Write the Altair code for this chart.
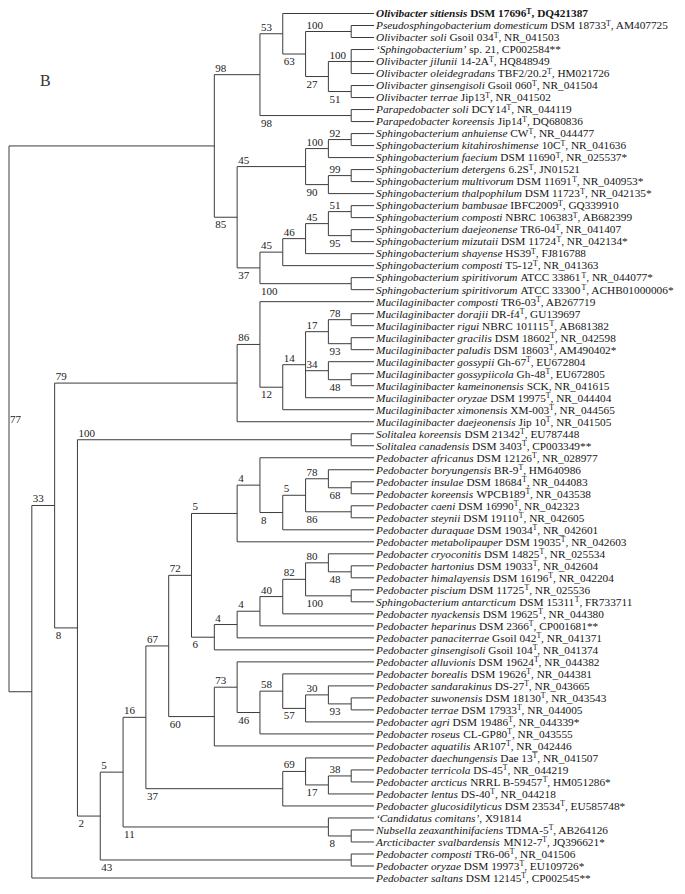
import altair as alt
import pandas as pd

PANEL = "B"

SPECIES = [
    "Olivibacter sitiensis", "Pseudosphingobacterium domesticum", "Olivibacter soli",
    "\u2018Sphingobacterium\u2019", "Olivibacter jilunii", "Olivibacter oleidegradans",
    "Olivibacter ginsengisoli", "Olivibacter terrae", "Parapedobacter soli",
    "Parapedobacter koreensis", "Sphingobacterium anhuiense", "Sphingobacterium kitahiroshimense",
    "Sphingobacterium faecium", "Sphingobacterium detergens", "Sphingobacterium multivorum",
    "Sphingobacterium thalpophilum", "Sphingobacterium bambusae", "Sphingobacterium composti",
    "Sphingobacterium daejeonense", "Sphingobacterium mizutaii", "Sphingobacterium shayense",
    "Sphingobacterium composti", "Sphingobacterium spiritivorum", "Sphingobacterium spiritivorum",
    "Mucilaginibacter composti", "Mucilaginibacter dorajii", "Mucilaginibacter rigui",
    "Mucilaginibacter gracilis", "Mucilaginibacter paludis", "Mucilaginibacter gossypii",
    "Mucilaginibacter gossypiicola", "Mucilaginibacter kameinonensis", "Mucilaginibacter oryzae",
    "Mucilaginibacter ximonensis", "Mucilaginibacter daejeonensis", "Solitalea koreensis",
    "Solitalea canadensis", "Pedobacter africanus", "Pedobacter boryungensis",
    "Pedobacter insulae", "Pedobacter koreensis", "Pedobacter caeni",
    "Pedobacter steynii", "Pedobacter duraquae", "Pedobacter metabolipauper",
    "Pedobacter cryoconitis", "Pedobacter hartonius", "Pedobacter himalayensis",
    "Pedobacter piscium", "Sphingobacterium antarcticum", "Pedobacter nyackensis",
    "Pedobacter heparinus", "Pedobacter panaciterrae", "Pedobacter ginsengisoli",
    "Pedobacter alluvionis", "Pedobacter borealis", "Pedobacter sandarakinus",
    "Pedobacter suwonensis", "Pedobacter terrae", "Pedobacter agri",
    "Pedobacter roseus", "Pedobacter aquatilis", "Pedobacter daechungensis",
    "Pedobacter terricola", "Pedobacter arcticus", "Pedobacter lentus",
    "Pedobacter glucosidilyticus", "\u2018Candidatus comitans\u2019", "Nubsella zeaxanthinifaciens",
    "Arcticibacter svalbardensis", "Pedobacter composti", "Pedobacter oryzae",
    "Pedobacter saltans",
]
STRAIN = [
    "DSM 17696", "DSM 18733", "Gsoil 034", "sp. 21", "14-2A", "TBF2/20.2", "Gsoil 060",
    "Jip13", "DCY14", "Jip14", "CW", "10C", "DSM 11690", "6.2S", "DSM 11691", "DSM 11723",
    "IBFC2009", "NBRC 106383", "TR6-04", "DSM 11724", "HS39", "T5-12", "ATCC 33861",
    "ATCC 33300", "TR6-03", "DR-f4", "NBRC 101115", "DSM 18602", "DSM 18603", "Gh-67",
    "Gh-48", "SCK", "DSM 19975", "XM-003", "Jip 10", "DSM 21342", "DSM 3403", "DSM 12126",
    "BR-9", "DSM 18684", "WPCB189", "DSM 16990", "DSM 19110", "DSM 19034", "DSM 19035",
    "DSM 14825", "DSM 19033", "DSM 16196", "DSM 11725", "DSM 15311", "DSM 19625",
    "DSM 2366", "Gsoil 042", "Gsoil 104", "DSM 19624", "DSM 19626", "DS-27", "DSM 18130",
    "DSM 17933", "DSM 19486", "CL-GP80", "AR107", "Dae 13", "DS-45", "NRRL B-59457",
    "DS-40", "DSM 23534", "", "TDMA-5", "MN12-7", "TR6-06", "DSM 19973", "DSM 12145",
]
TYPE_STRAIN = [s not in ("sp. 21", "SCK", "") for s in STRAIN]
ACCESSION = [
    "DQ421387", "AM407725", "NR_041503", "CP002584**", "HQ848949", "HM021726", "NR_041504",
    "NR_041502", "NR_044119", "DQ680836", "NR_044477", "NR_041636", "NR_025537*", "JN01521",
    "NR_040953*", "NR_042135*", "GQ339910", "AB682399", "NR_041407", "NR_042134*", "FJ816788",
    "NR_041363", "NR_044077*", "ACHB01000006*", "AB267719", "GU139697", "AB681382",
    "NR_042598", "AM490402*", "EU672804", "EU672805", "NR_041615", "NR_044404", "NR_044565",
    "NR_041505", "EU787448", "CP003349**", "NR_028977", "HM640986", "NR_044083", "NR_043538",
    "NR_042323", "NR_042605", "NR_042601", "NR_042603", "NR_025534", "NR_042604", "NR_042204",
    "NR_025536", "FR733711", "NR_044380", "CP001681**", "NR_041371", "NR_041374", "NR_044382",
    "NR_044381", "NR_043665", "NR_043543", "NR_044005", "NR_044339*", "NR_043555", "NR_042446",
    "NR_041507", "NR_044219", "HM051286*", "NR_044218", "EU585748*", "X91814", "AB264126",
    "JQ396621*", "NR_041506", "EU109726*", "CP002545**",
]
BOLD_LEAVES = [0]

# Topology (Newick): bare numbers are leaf indices, numbers after ')' are bootstrap values
CLADE_OLIVIBACTER = "((0,((1,2)100,((3,4,5)100,(6,7)51)27)63)53,(8,9)98)98"
CLADE_SPHINGO = "((((10,11)92,12)100,((13,14)99,15)90)45,(((((16,17)51,(18,19)95)45,20)46,21)45,(22,23)100)37)85"
CLADE_MUCILAGINI = "((24,((((25,26)78,(27,28)93)17,(29,(30,31)48)34,32)14,33)12)86,34)79"
CLADE_PEDO_A = "(((37,(((38,(39,40)68)78,(41,42)86)5,43)8)4,44)5,((((((45,(46,47)48)80,(48,49)100)82,50)40,51)4,52)4,53)6)72"
CLADE_PEDO_B = "((54,((55,((56,(57,58)93)30,59)57)58,60)46)73,61)60"
CLADE_PEDO_C = "((62,((63,64)38,65)17)69,66)37"
TREE = ("((" + CLADE_OLIVIBACTER + "," + CLADE_SPHINGO + "),((" + CLADE_MUCILAGINI
        + ",((35,36)100,((((" + CLADE_PEDO_A + "," + CLADE_PEDO_B + ")67," + CLADE_PEDO_C
        + ")16,(67,(68,69)8)11)5,(70,71)43)2)8)33,72))77")

# ---------------- layout ----------------
W, H = 669, 878
ROOT_X = 1.0
LEAF_X = 366.0
TEXT_X = LEAF_X + 2
LEAF_Y0 = 5.5
LEAF_Y1 = 870.0
FS = 11.3
BOOT_FS = 11
FONT = "Liberation Serif"


def _tab(upper, lower, extra):
    d = {}
    for ch, w in zip("ABCDEFGHIJKLMNOPQRSTUVWXYZ", upper):
        d[ch] = w
    for ch, w in zip("abcdefghijklmnopqrstuvwxyz", lower):
        d[ch] = w
    for ch in "0123456789":
        d[ch] = 500
    d.update(extra)
    return d


PUNCT = {" ": 250, ",": 250, ".": 250, "-": 333, "/": 278, "*": 500, "_": 500,
         "\u2018": 333, "\u2019": 333}
REG = _tab([722, 667, 667, 722, 611, 556, 722, 722, 333, 389, 722, 611, 889, 722, 722, 556, 722,
            667, 556, 611, 722, 722, 944, 722, 722, 611],
           [444, 500, 444, 500, 444, 333, 500, 500, 278, 278, 500, 278, 778, 500, 500, 500, 500,
            333, 389, 278, 500, 500, 722, 500, 500, 444], PUNCT)
ITA = _tab([611, 611, 667, 722, 611, 611, 722, 722, 333, 444, 667, 556, 833, 667, 722, 611, 722,
            611, 500, 556, 722, 611, 833, 611, 556, 556],
           [500, 500, 444, 500, 444, 278, 500, 500, 278, 278, 444, 278, 722, 500, 500, 500, 500,
            389, 389, 278, 500, 444, 667, 444, 444, 389], PUNCT)
BLD = _tab([722, 667, 722, 722, 667, 611, 778, 778, 389, 500, 778, 667, 944, 722, 778, 611, 778,
            722, 556, 667, 722, 722, 1000, 722, 722, 667],
           [500, 556, 444, 556, 444, 333, 500, 556, 278, 333, 556, 278, 833, 556, 500, 556, 556,
            444, 389, 333, 556, 500, 722, 500, 500, 444], PUNCT)
BIT = _tab([667, 667, 667, 722, 667, 667, 722, 778, 389, 500, 667, 611, 889, 722, 722, 611, 722,
            667, 556, 611, 722, 667, 889, 667, 611, 611],
           [500, 500, 444, 500, 444, 333, 500, 556, 278, 278, 500, 278, 778, 556, 500, 500, 500,
            389, 389, 278, 556, 444, 667, 500, 444, 389], PUNCT)


def tw(text, table, size):
    return sum(table.get(c, 500) for c in text) * size / 1000.0


def parse(s):
    pos = 0

    def number():
        nonlocal pos
        st = pos
        while pos < len(s) and s[pos].isdigit():
            pos += 1
        return s[st:pos]

    def node():
        nonlocal pos
        if s[pos] == "(":
            pos += 1
            kids = [node()]
            while s[pos] == ",":
                pos += 1
                kids.append(node())
            pos += 1  # ')'
            return {"kids": kids, "label": number()}
        return {"leaf": int(number())}

    return node()


root = parse(TREE)
n_leaves = len(SPECIES)
dy = (LEAF_Y1 - LEAF_Y0) / (n_leaves - 1)


def place(n):
    if "leaf" in n:
        n["col"] = 0
        n["y"] = LEAF_Y0 + n["leaf"] * dy
    else:
        for k in n["kids"]:
            place(k)
        n["col"] = min(k["col"] for k in n["kids"]) - 1
        n["y"] = (n["kids"][0]["y"] + n["kids"][-1]["y"]) / 2


place(root)
depth = -root["col"]
step = (LEAF_X - ROOT_X) / depth


def xof(n):
    return ROOT_X + (n["col"] + depth) * step


rules, texts = [], []


def walk(n):
    if "leaf" in n:
        return
    nx = xof(n)
    kids = n["kids"]
    rules.append(dict(x=nx, x2=nx, y=kids[0]["y"], y2=kids[-1]["y"]))
    for i, k in enumerate(kids):
        rules.append(dict(x=nx, x2=xof(k), y=k["y"], y2=k["y"]))
        if "kids" in k and k["label"]:
            last = i == len(kids) - 1
            ly = k["y"] + 11 if last else k["y"] - 3
            texts.append(dict(x=nx + 1, y=ly, text=k["label"], kind="boot"))
        walk(k)


walk(root)
texts.append(dict(x=xof(root) + 1, y=root["y"] + 4, text=root["label"], kind="boot"))

for i in range(n_leaves):
    bold = i in BOLD_LEAVES
    yb = LEAF_Y0 + i * dy + FS * 0.34
    itab, rtab = (BIT, BLD) if bold else (ITA, REG)
    x = TEXT_X
    texts.append(dict(x=x, y=yb, text=SPECIES[i], kind="bita" if bold else "ita"))
    x += tw(SPECIES[i], itab, FS)
    if STRAIN[i]:
        x += tw(" ", rtab, FS)
        texts.append(dict(x=x, y=yb, text=STRAIN[i], kind="brom" if bold else "rom"))
        x += tw(STRAIN[i], rtab, FS)
    if TYPE_STRAIN[i]:
        texts.append(dict(x=x, y=yb - FS * 0.33, text="T", kind="bsup" if bold else "sup"))
        x += tw("T", rtab, FS * 0.68)
    texts.append(dict(x=x, y=yb, text=", " + ACCESSION[i], kind="brom" if bold else "rom"))

texts.append(dict(x=32, y=78, text=PANEL, kind="panel"))

rules_df = pd.DataFrame(rules)
text_df = pd.DataFrame(texts)

XS = alt.Scale(domain=[0, W], nice=False, zero=False)
YS = alt.Scale(domain=[0, H], nice=False, zero=False, reverse=True)

tree = alt.Chart(rules_df).mark_rule(color="#3c3c3c", strokeWidth=1).encode(
    x=alt.X("x:Q", scale=XS, axis=None),
    x2="x2:Q",
    y=alt.Y("y:Q", scale=YS, axis=None),
    y2="y2:Q",
)


def text_layer(kind, **props):
    base = dict(align="left", baseline="alphabetic", font=FONT, color="#151515")
    base.update(props)
    return alt.Chart(text_df).transform_filter(alt.datum.kind == kind).mark_text(**base).encode(
        x=alt.X("x:Q", scale=XS, axis=None),
        y=alt.Y("y:Q", scale=YS, axis=None),
        text="text:N",
    )


layers = [
    tree,
    text_layer("ita", fontSize=FS, fontStyle="italic"),
    text_layer("rom", fontSize=FS),
    text_layer("sup", fontSize=FS * 0.68),
    text_layer("bita", fontSize=FS, fontStyle="italic", fontWeight="bold"),
    text_layer("brom", fontSize=FS, fontWeight="bold"),
    text_layer("bsup", fontSize=FS * 0.68, fontWeight="bold"),
    text_layer("boot", fontSize=BOOT_FS, color="#222222"),
    text_layer("panel", fontSize=16, color="#333333"),
]

chart = alt.layer(*layers).properties(
    width=W, height=H, padding=0, autosize=alt.AutoSizeParams(type="none")
).configure_view(stroke=None)

chart.save("out.html", embed_options={"renderer": "svg", "actions": False})
